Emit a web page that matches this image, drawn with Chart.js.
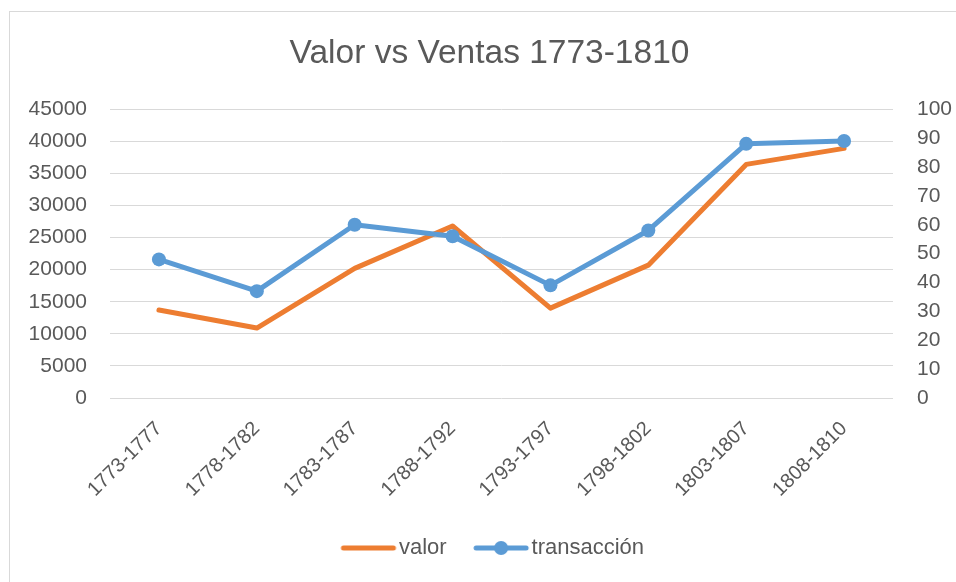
<!DOCTYPE html>
<html>
<head>
<meta charset="utf-8">
<script src="https://cdn.jsdelivr.net/npm/chart.js@4"></script>
<style>
  html, body { margin: 0; padding: 0; background: #ffffff; }
  #wrap { position: relative; width: 956px; height: 582px; overflow: hidden; background: #ffffff; }
  #frame { position: absolute; left: 9px; top: 11px; width: 1200px; height: 1200px; border: 1px solid #d9d9d9; box-sizing: border-box; }
  #c { position: absolute; left: 0; top: 0; }
</style>
</head>
<body>
<div id="wrap">
  <div id="frame"></div>
  <canvas id="c" width="956" height="582"></canvas>
</div>
<script>
const categories = ["1773-1777", "1778-1782", "1783-1787", "1788-1792", "1793-1797", "1798-1802", "1803-1807", "1808-1810"];
const valor = [13700, 10900, 20200, 26800, 14000, 20700, 36400, 38900];
const transaccion = [48, 37, 60, 56, 39, 58, 88, 89];
const seriesNames = ["valor", "transacción"];
const chartTitle = "Valor vs Ventas 1773-1810";

const ORANGE = "#ED7D31";
const BLUE = "#5B9BD5";
const TEXT = "#595959";
const FONT = "'Liberation Sans', Arial, sans-serif";

function legendImage(color, withDot) {
  const cv = document.createElement("canvas");
  cv.width = 58; cv.height = 16;
  const g = cv.getContext("2d");
  g.strokeStyle = color; g.lineWidth = 5; g.lineCap = "round";
  g.beginPath(); g.moveTo(4, 8); g.lineTo(54, 8); g.stroke();
  if (withDot) {
    g.fillStyle = color;
    g.beginPath(); g.arc(29, 8, 7, 0, Math.PI * 2); g.fill();
  }
  return cv;
}
const legendImgs = [legendImage(ORANGE, false), legendImage(BLUE, true)];

const legendShift = {
  id: "legendShift",
  afterLayout(chart) {
    if (chart.legend) { chart.legend.left += 7; chart.legend.right += 7; }
  }
};

new Chart(document.getElementById("c"), {
  type: "line",
  plugins: [legendShift],
  data: {
    labels: categories,
    datasets: [
      {
        label: seriesNames[0],
        data: valor,
        yAxisID: "yLeft",
        borderColor: ORANGE,
        backgroundColor: ORANGE,
        borderWidth: 5,
        pointRadius: 0,
        pointHoverRadius: 0,
        borderJoinStyle: "round",
        borderCapStyle: "round",
        tension: 0,
        order: 2
      },
      {
        label: seriesNames[1],
        data: transaccion,
        yAxisID: "yRight",
        borderColor: BLUE,
        backgroundColor: BLUE,
        borderWidth: 5,
        pointRadius: 7,
        pointBackgroundColor: BLUE,
        pointBorderColor: BLUE,
        pointBorderWidth: 0,
        borderJoinStyle: "round",
        borderCapStyle: "round",
        tension: 0,
        order: 1
      }
    ]
  },
  options: {
    responsive: false,
    animation: false,
    devicePixelRatio: 1,
    layout: { padding: { top: 16, left: 27, right: 4, bottom: 13 } },
    plugins: {
      title: {
        display: true,
        text: chartTitle,
        color: TEXT,
        font: { family: FONT, size: 33.5, weight: "normal" },
        padding: { top: 18, bottom: 35 }
      },
      legend: {
        display: true,
        position: "bottom",
        labels: {
          color: TEXT,
          font: { family: FONT, size: 22 },
          usePointStyle: true,
          pointStyleWidth: 39,
          boxHeight: 16,
          padding: 35,
          sort: (a, b) => a.datasetIndex - b.datasetIndex,
          generateLabels: (chart) => Chart.defaults.plugins.legend.labels.generateLabels(chart).map((l) => Object.assign(l, { pointStyle: legendImgs[l.datasetIndex] }))
        }
      },
      tooltip: { enabled: false }
    },
    scales: {
      x: {
        offset: true,
        grid: { display: false, drawTicks: false, offset: true },
        border: { display: false },
        ticks: {
          color: TEXT,
          font: { family: FONT, size: 20 },
          minRotation: 45,
          maxRotation: 45,
          padding: 19,
          autoSkip: false
        },
        afterFit: (s) => { s.height = 104; }
      },
      yLeft: {
        position: "left",
        min: 0,
        max: 45000,
        grid: { color: "#d9d9d9", lineWidth: 1, drawTicks: false },
        border: { display: false },
        ticks: {
          stepSize: 5000,
          autoSkip: false,
          color: TEXT,
          font: { family: FONT, size: 21 },
          padding: 23,
          callback: (v) => String(v)
        },
        afterFit: (s) => { s.width = 83; }
      },
      yRight: {
        position: "right",
        min: 0,
        max: 100,
        grid: { display: false, drawTicks: false },
        border: { display: false },
        ticks: {
          stepSize: 10,
          autoSkip: false,
          color: TEXT,
          font: { family: FONT, size: 21 },
          padding: 24,
          callback: (v) => String(v)
        },
        afterFit: (s) => { s.width = 59; }
      }
    }
  }
});
</script>
</body>
</html>
